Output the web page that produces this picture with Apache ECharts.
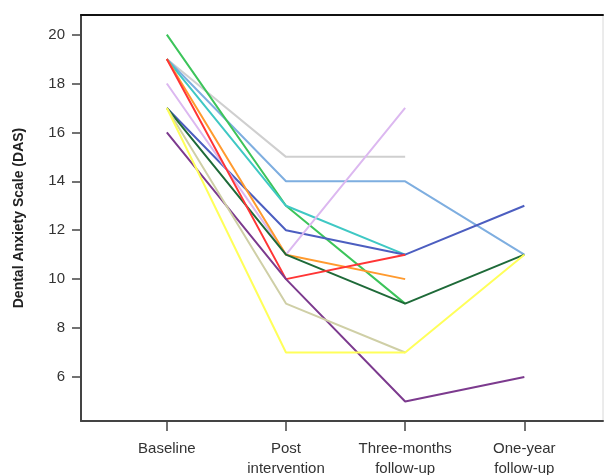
<!DOCTYPE html>
<html>
<head>
<meta charset="utf-8">
<script src="https://cdn.jsdelivr.net/npm/echarts@6/dist/echarts.min.js"></script>
<style>
  html, body { margin: 0; padding: 0; background: #fff; }
  #chart { width: 606px; height: 475px; }
</style>
</head>
<body>
<div id="chart"></div>
<script>
// time points (x axis)
var categories = ['Baseline', 'Post\nintervention', 'Three-months\nfollow-up', 'One-year\nfollow-up'];
var yTicks = [6, 8, 10, 12, 14, 16, 18, 20];

// DAS score per participant, null = not measured
var grey      = [19, 15, 15, null];
var lightBlue = [19, 14, 14, 11];
var green     = [20, 13, 9, null];
var teal      = [19, 13, 11, null];
var blue      = [17, 12, 11, 13];
var lavender  = [18, 11, 17, null];
var orange    = [19, 11, 10, null];
var darkGreen = [17, 11, 9, 11];
var red       = [19, 10, 11, null];
var purple    = [16, 10, 5, 6];
var khaki     = [17, 9, 7, null];
var yellow    = [17, 7, 7, 11];

var participants = [
  { data: grey, color: '#cfcfcf' },
  { data: lightBlue, color: '#7eaee0' },
  { data: green, color: '#3cc45a' },
  { data: teal, color: '#3fc8c4' },
  { data: blue, color: '#4c5ec0' },
  { data: lavender, color: '#dcb8f0' },
  { data: orange, color: '#ff9a2e' },
  { data: darkGreen, color: '#1e6a38' },
  { data: red, color: '#ff3535' },
  { data: purple, color: '#7c3a8e' },
  { data: khaki, color: '#cfcfa6' },
  { data: yellow, color: '#ffff5a' }
];

var chart = echarts.init(document.getElementById('chart'));

var series = participants.map(function(p) {
  var pts = [];
  p.data.forEach(function(v, i) {
    if (v !== null) pts.push([i, v]);
  });
  return {
    type: 'line',
    data: pts,
    symbol: 'none',
    lineStyle: { color: p.color, width: 2 },
    silent: true
  };
});

var option = {
  animation: false,
  textStyle: { fontFamily: 'Liberation Sans, Arial, sans-serif' },
  grid: {
    left: 81, right: 3, top: 15, bottom: 54,
    outerBoundsMode: 'none',
    show: true, borderColor: '#d8d8d8', borderWidth: 1
  },
  xAxis: [{
    type: 'value',
    min: -0.72,
    max: 3.66,
    splitLine: { show: false },
    axisLine: { show: true, onZero: false, lineStyle: { color: '#444', width: 2 } },
    axisTick: { show: true, customValues: [0, 1, 2, 3], length: 10, lineStyle: { color: '#444', width: 1.5 } },
    axisLabel: {
      customValues: [0, 1, 2, 3],
      formatter: function(v) { return categories[Math.round(v)]; },
      color: '#333', fontSize: 15, margin: 18, lineHeight: 20
    }
  }, {
    type: 'value',
    position: 'top',
    min: -0.72,
    max: 3.66,
    splitLine: { show: false },
    axisLine: { show: true, onZero: false, lineStyle: { color: '#111', width: 2 } },
    axisTick: { show: false },
    axisLabel: { show: false }
  }],
  yAxis: {
    type: 'value',
    min: 4.2,
    max: 20.8,
    name: 'Dental Anxiety Scale (DAS)',
    nameLocation: 'middle',
    nameGap: 55,
    nameTextStyle: { fontSize: 14, fontWeight: 'bold', color: '#222' },
    splitLine: { show: false },
    axisLine: { show: true, onZero: false, lineStyle: { color: '#444', width: 2 } },
    axisTick: { show: true, customValues: yTicks, length: 9, lineStyle: { color: '#444', width: 1.5 } },
    axisLabel: { customValues: yTicks, color: '#333', fontSize: 15, margin: 16 }
  },
  series: series
};

chart.setOption(option);
</script>
</body>
</html>
